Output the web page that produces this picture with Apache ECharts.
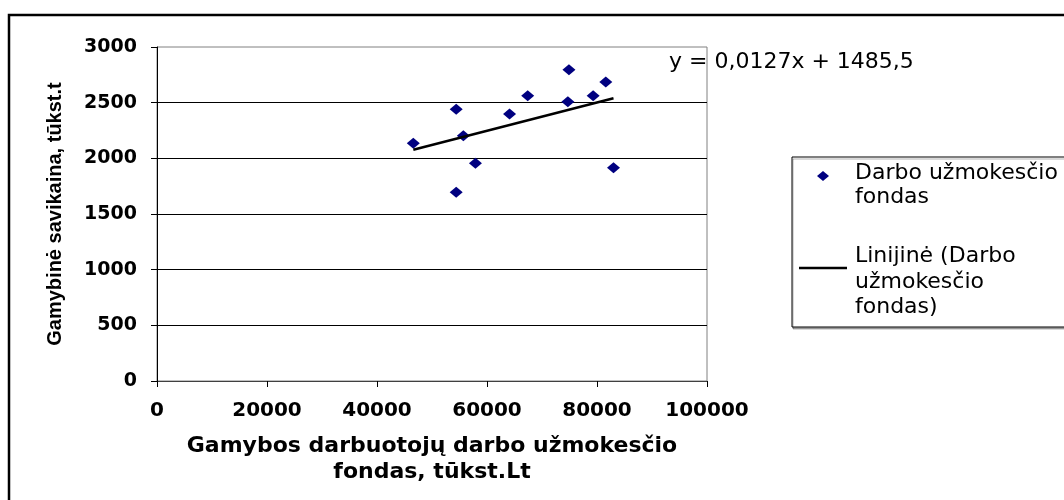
<!DOCTYPE html>
<html>
<head>
<meta charset="utf-8">
<script src="https://cdn.jsdelivr.net/npm/echarts@6/dist/echarts.min.js"></script>
<style>
  html, body { margin: 0; padding: 0; background: #fff; }
  #chart { width: 1064px; height: 500px; }
</style>
</head>
<body>
<div id="chart"></div>
<script>
  // darbo užmokesčio fondas (x) ir gamybinė savikaina (y)
  const salaryFund = [46600, 54400, 55700, 57900, 54400, 64100, 67400, 74900, 74700, 79300, 81600, 83000];
  const costPrice = [2135, 2440, 2203, 1955, 1695, 2398, 2563, 2796, 2509, 2563, 2686, 1916];
  // linijinis trendas, galai nuskaityti nuo paveikslo
  const trendX = [46600, 83000];
  const trendY = [2077, 2539];
  const xMin = 0, xMax = 100000, xStep = 20000;
  const yMin = 0, yMax = 3000, yStep = 500;
  const equation = 'y = 0,0127x + 1485,5';
  const seriesName = 'Darbo užmokesčio fondas';
  const trendName = 'Linijinė (Darbo užmokesčio fondas)';

  const points = salaryFund.map((x, i) => [x, costPrice[i]]);
  const trend = trendX.map((x, i) => [x, trendY[i]]);

  const wide = '"DejaVu Sans", sans-serif';

  let myChart = echarts.init(document.getElementById('chart'));
  myChart.setOption({
    animation: false,
    backgroundColor: '#fff',
    grid: {
      left: 157,
      right: 357,
      top: 47,
      bottom: 119,
      show: true,
      borderColor: '#808080',
      borderWidth: 1,
      containLabel: false,
      outerBoundsMode: 'none'
    },
    xAxis: {
      type: 'value',
      min: xMin,
      max: xMax,
      interval: xStep,
      name: 'Gamybos darbuotojų darbo užmokesčio\nfondas, tūkst.Lt',
      nameLocation: 'middle',
      nameGap: 52,
      nameTextStyle: {
        color: '#000',
        fontFamily: wide,
        fontWeight: 'bold',
        fontSize: 22,
        lineHeight: 26
      },
      axisLine: { show: true, lineStyle: { color: '#404040', width: 1 } },
      axisTick: { show: true, inside: false, length: 6, lineStyle: { color: '#000' } },
      axisLabel: {
        color: '#000',
        fontFamily: wide,
        fontWeight: 'bold',
        fontSize: 20,
        margin: 20,
        formatter: v => String(v)
      },
      splitLine: { show: false }
    },
    yAxis: {
      type: 'value',
      min: yMin,
      max: yMax,
      interval: yStep,
      name: 'Gamybinė savikaina, tūkst.t',
      nameLocation: 'middle',
      nameRotate: 90,
      nameGap: 92,
      nameTextStyle: {
        color: '#000',
        fontFamily: '"Liberation Sans", Arial, sans-serif',
        fontWeight: 'bold',
        fontSize: 20
      },
      axisLine: { show: true, lineStyle: { color: '#000', width: 1 } },
      axisTick: { show: true, inside: false, length: 6, lineStyle: { color: '#000' } },
      axisLabel: {
        color: '#000',
        fontFamily: wide,
        fontWeight: 'bold',
        fontSize: 19,
        margin: 20,
        formatter: v => String(v)
      },
      splitLine: {
        show: true,
        showMinLine: false,
        showMaxLine: false,
        lineStyle: { color: '#000', width: 1 }
      }
    },
    series: [
      {
        name: seriesName,
        type: 'scatter',
        data: points,
        symbol: 'diamond',
        symbolSize: [13, 11],
        itemStyle: { color: '#000080', opacity: 1 },
        z: 3
      },
      {
        name: trendName,
        type: 'line',
        data: trend,
        symbol: 'none',
        lineStyle: { color: '#000', width: 2.5 },
        z: 4
      }
    ],
    graphic: [
      // rėmelis
      {
        type: 'rect',
        shape: { x: 9, y: 15, width: 1100, height: 520 },
        style: { fill: 'none', stroke: '#000', lineWidth: 2.5 },
        z: 10
      },
      // lygtis
      {
        type: 'text',
        style: {
          text: equation,
          x: 669,
          y: 62,
          verticalAlign: 'middle',
          font: '22px ' + wide,
          fill: '#000'
        },
        z: 10
      },
      // legenda
      {
        type: 'rect',
        shape: { x: 792, y: 157, width: 320, height: 170 },
        style: {
          fill: '#fff',
          stroke: '#000',
          lineWidth: 1,
          shadowColor: 'rgba(0,0,0,0.3)',
          shadowOffsetX: 1,
          shadowOffsetY: 2,
          shadowBlur: 0
        },
        z: 10
      },
      {
        type: 'polygon',
        shape: { points: [[823, 171], [829, 176], [823, 181], [817, 176]] },
        style: { fill: '#000080' },
        z: 11
      },
      {
        type: 'text',
        style: {
          text: 'Darbo užmokesčio\nfondas',
          x: 855,
          y: 185,
          verticalAlign: 'middle',
          lineHeight: 24,
          font: '22px ' + wide,
          fill: '#000'
        },
        z: 11
      },
      {
        type: 'line',
        shape: { x1: 799, y1: 268, x2: 847, y2: 268 },
        style: { stroke: '#000', lineWidth: 2.5 },
        z: 11
      },
      {
        type: 'text',
        style: {
          text: 'Linijinė (Darbo\nužmokesčio\nfondas)',
          x: 855,
          y: 282,
          verticalAlign: 'middle',
          lineHeight: 25.5,
          font: '22px ' + wide,
          fill: '#000'
        },
        z: 11
      }
    ]
  });
</script>
</body>
</html>
